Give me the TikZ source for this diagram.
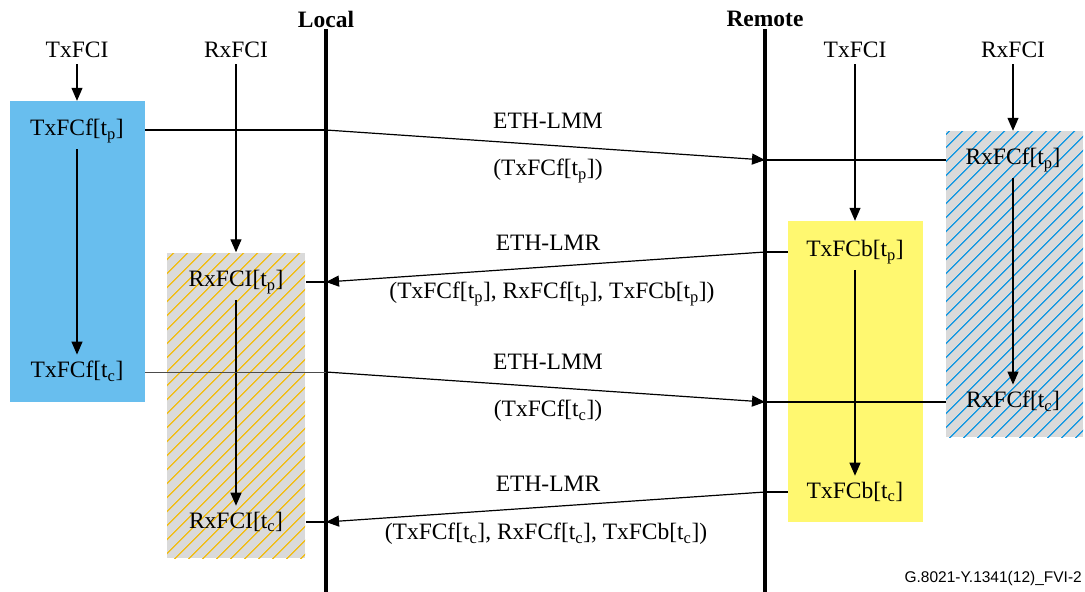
\documentclass[tikz,border=0pt]{standalone}
\usepackage{fontspec}
\setmainfont{Liberation Serif}
\newfontfamily\figsans{Liberation Sans}
\usepackage{xcolor}
\usetikzlibrary{arrows.meta, patterns.meta}
\definecolor{boxblue}{RGB}{104,190,238}
\definecolor{boxyellow}{RGB}{255,248,112}
\definecolor{hatchgray}{RGB}{218,218,218}
\definecolor{hatchyellow}{RGB}{240,190,30}
\definecolor{hatchblue}{RGB}{30,155,225}

\begin{document}
\begin{tikzpicture}[x=1pt, y=-1pt,
		font=\fontsize{23.5}{27}\selectfont,
		lbl/.style={inner sep=6pt},
		life/.style={line width=3.8pt},
		arr/.style={line width=1.2pt, -{Triangle[length=13pt,width=11pt]}},
		msg/.style={line width=1.2pt},
		solidbox/.style={draw=none, inner sep=0pt},
		hatchbox/.style={draw=none, inner sep=0pt, preaction={fill=hatchgray},
			pattern={Lines[angle=45,distance=10.5pt,line width=1.5pt]}}]
			\useasboundingbox (0,0) rectangle (1085,592);
			% boxes
			\node[solidbox, fill=boxblue, minimum width=135pt, minimum height=301pt] (txlBox) at (77.5,251.5) {};
			\node[hatchbox, pattern color=hatchyellow, minimum width=138pt, minimum height=305pt] (rxlBox) at (236,405.5) {};
			\node[solidbox, fill=boxyellow, minimum width=135pt, minimum height=301pt] (txrBox) at (855.5,371.5) {};
			\node[hatchbox, pattern color=hatchblue, minimum width=137pt, minimum height=306pt] (rxrBox) at (1014.5,284) {};
			% lifelines
			\node[font=\fontsize{23.5}{27}\selectfont\bfseries, inner sep=2pt] (local) at (326,19) {Local};
			\node[font=\fontsize{23.5}{27}\selectfont\bfseries, inner sep=2pt] (remote) at (765,19) {Remote};
			\coordinate (localEnd) at (326,592);
			\coordinate (remoteEnd) at (765,592);
			\draw[life] (local.south) -- (localEnd);
			\draw[life] (remote.south) -- (remoteEnd);
			% counters
			\node[lbl] (txL) at (77,50) {TxFCI};
			\node[lbl] (rxL) at (236,50) {RxFCI};
			\node[lbl] (txR) at (855,50) {TxFCI};
			\node[lbl] (rxR) at (1013,50) {RxFCI};
			\node[lbl] (txlp) at (77,131) {TxFCf[t\textsubscript{p}]};
			\node[lbl] (txlc) at (77,371) {TxFCf[t\textsubscript{c}]};
			\node[lbl] (rxlp) at (236,282) {RxFCI[t\textsubscript{p}]};
			\node[lbl] (rxlc) at (236,522) {RxFCI[t\textsubscript{c}]};
			\node[lbl] (txrp) at (855,252) {TxFCb[t\textsubscript{p}]};
			\node[lbl] (txrc) at (855,492) {TxFCb[t\textsubscript{c}]};
			\node[lbl] (rxrp) at (1013,160) {RxFCf[t\textsubscript{p}]};
			\node[lbl] (rxrc) at (1013,401) {RxFCf[t\textsubscript{c}]};
			\draw[arr] (txL) -- (txL |- txlBox.north);
			\draw[arr] (rxL) -- (rxL |- rxlBox.north);
			\draw[arr] (txR) -- (txR |- txrBox.north);
			\draw[arr] (rxR) -- (rxR |- rxrBox.north);
			\draw[arr] (txlp) -- (txlc);
			\draw[arr] (rxlp) -- (rxlc);
			\draw[arr] (txrp) -- (txrc);
			\draw[arr] (rxrp) -- (rxrc);
			% messages
			\coordinate (m1a) at (326,130);
			\coordinate (m1b) at (765,160);
			\coordinate (m2a) at (765,252);
			\coordinate (m2b) at (326,282);
			\coordinate (m3a) at (326,372);
			\coordinate (m3b) at (765,402);
			\coordinate (m4a) at (765,492);
			\coordinate (m4b) at (326,522);
			\draw[msg] (txlBox.east |- m1a) -- (m1a);
			\draw[arr] (m1a) -- (m1b);
			\draw[msg] (m1b) -- (rxrBox.west |- m1b);
			\draw[msg] (txrBox.west |- m2a) -- (m2a);
			\draw[arr] (m2a) -- (m2b);
			\draw[msg] (m2b) -- (rxlBox.east |- m2b);
			\draw[line width=0.6pt, black!70] (txlBox.east |- m3a) -- (m3a);
			\draw[arr] (m3a) -- (m3b);
			\draw[msg] (m3b) -- (rxrBox.west |- m3b);
			\draw[msg] (txrBox.west |- m4a) -- (m4a);
			\draw[arr] (m4a) -- (m4b);
			\draw[msg] (m4b) -- (rxlBox.east |- m4b);
			\node[lbl] (lmm1) at (548,121) {ETH-LMM};
			\node[lbl] (lmm1p) at (548,171) {(TxFCf[t\textsubscript{p}])};
			\node[lbl] (lmr1) at (548,243) {ETH-LMR};
			\node[lbl] (lmr1p) at (552,294) {(TxFCf[t\textsubscript{p}], RxFCf[t\textsubscript{p}], TxFCb[t\textsubscript{p}])};
			\node[lbl] (lmm2) at (548,362) {ETH-LMM};
			\node[lbl] (lmm2p) at (548,411) {(TxFCf[t\textsubscript{c}])};
			\node[lbl] (lmr2) at (548,484) {ETH-LMR};
			\node[lbl] (lmr2p) at (546,534) {(TxFCf[t\textsubscript{c}], RxFCf[t\textsubscript{c}], TxFCb[t\textsubscript{c}])};
			\node[anchor=east, inner sep=0pt, font=\figsans\fontsize{15.5}{18}\selectfont] (figid) at (1082,578) {G.8021-Y.1341(12)\_FVI-2};
		\end{tikzpicture}
\end{document}
